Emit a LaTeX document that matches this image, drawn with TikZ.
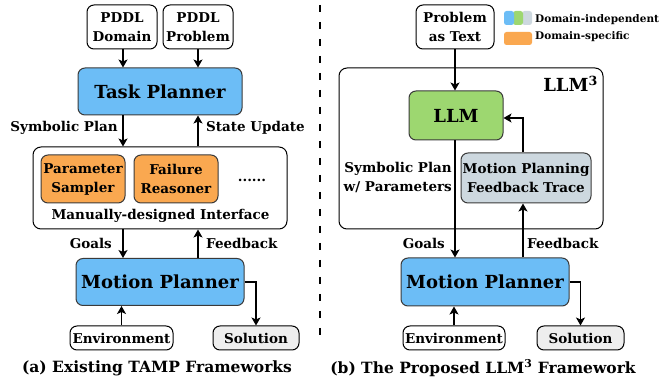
\documentclass[tikz,border=0pt]{standalone}
\usepackage{fontspec}
\setmainfont{DejaVu Serif}
\usetikzlibrary{arrows.meta}
\definecolor{cblue}{HTML}{6CBDF6}
\definecolor{cgreen}{HTML}{9DD770}
\definecolor{cgrey}{HTML}{CDD8DF}
\definecolor{corange}{HTML}{FAA850}
\definecolor{csol}{HTML}{EEEEEE}
\definecolor{cedge}{HTML}{3A3A3A}
\tikzset{
  lbl/.style={font=\bfseries\fontsize{13.5}{19}\selectfont, inner sep=0pt},
  big/.style={font=\bfseries\fontsize{18}{22}\selectfont},
  inbox/.style={draw=black, line width=1pt, rounded corners=7pt, fill=white, align=center, inner sep=0pt, font=\bfseries\fontsize{13.5}{19}\selectfont},
  colbox/.style={draw=cedge, line width=1pt, rounded corners=7pt, align=center, inner sep=0pt},
  framebox/.style={draw=black, line width=1pt, rounded corners=8pt, inner sep=0pt},
  arr/.style={line width=1.2pt, -{Stealth[length=8pt,width=9pt,inset=2pt]}},
  captxt/.style={font=\bfseries\fontsize{15.5}{18}\selectfont, inner sep=0pt},
  leg/.style={font=\bfseries\fontsize{10.5}{12}\selectfont, inner sep=0pt, anchor=west},
}
\begin{document}
\begin{tikzpicture}[x=1pt,y=-1pt]
\useasboundingbox (0,0) rectangle (670,379);
% ---------------- left panel ----------------
\node[inbox, minimum width=70pt, minimum height=44pt] (domain) at (122,27) {PDDL\\Domain};
\node[inbox, minimum width=70pt, minimum height=44pt] (problem) at (198,27) {PDDL\\Problem};
\node[colbox, fill=cblue, big, minimum width=164pt, minimum height=47pt] (task) at (160,91.5) {Task Planner};
\node[framebox, minimum width=254pt, minimum height=82pt] (iface) at (160,188) {};
\node[colbox, fill=corange, lbl, minimum width=84pt, minimum height=48pt] (psamp) at (83,179) {Parameter\\Sampler};
\node[colbox, fill=corange, lbl, minimum width=84pt, minimum height=48pt] (freas) at (176,179) {Failure\\Reasoner};
\node[lbl] (dots) at (252,180) {......};
\node[lbl] (ifacelbl) at (160.5,216) {Manually-designed Interface};
\node[colbox, fill=cblue, big, minimum width=168pt, minimum height=47pt] (mpA) at (160,282) {Motion Planner};
\node[inbox, minimum width=103pt, minimum height=24pt] (envA) at (121.5,338) {Environment};
\node[inbox, fill=csol, minimum width=86pt, minimum height=24pt] (solA) at (256,338) {Solution};

\coordinate (xa) at (123,0);
\coordinate (xb) at (198,0);
\draw[arr] (domain.south -| xa) -- (task.north -| xa);
\draw[arr] (problem.south -| xb) -- (task.north -| xb);
\draw[arr] (task.south -| xa) -- (iface.north -| xa);
\draw[arr] (iface.north -| xb) -- (task.south -| xb);
\draw[arr] (iface.south -| xa) -- (mpA.north -| xa);
\draw[arr] (mpA.north -| xb) -- (iface.south -| xb);
\draw[arr] (envA.north) -- (envA.north |- mpA.south);
\draw[arr] (mpA.east) -| (solA.north);

\node[lbl, anchor=east] (lsp) at (118,128) {Symbolic Plan};
\node[lbl, anchor=west] (lsu) at (206,128) {State Update};
\node[lbl, anchor=east] (lga) at (112,243) {Goals};
\node[lbl, anchor=west] (lfa) at (206,243) {Feedback};
\node[captxt] (capA) at (157,368) {(a) Existing TAMP Frameworks};

% divider
\draw[line width=1.1pt, dash pattern=on 7.5pt off 9.5pt] (320,5) -- (320,345);

% ---------------- right panel ----------------
\node[inbox, minimum width=78pt, minimum height=44pt] (ptext) at (455,27) {Problem\\as Text};
\node[framebox, minimum width=264pt, minimum height=161pt] (llm3) at (471,148.5) {};
\node[big, anchor=east, inner sep=0pt] (llm3lbl) at (598,84) {LLM\textsuperscript{3}};
\node[colbox, fill=cgreen, big, minimum width=94pt, minimum height=49pt] (llm) at (456,115.5) {LLM};
\node[colbox, fill=cgrey, lbl, minimum width=130pt, minimum height=50pt] (mpft) at (526,178) {Motion Planning\\Feedback Trace};
\node[colbox, fill=cblue, big, minimum width=168pt, minimum height=48pt] (mpB) at (485,282) {Motion Planner};
\node[inbox, minimum width=102pt, minimum height=24pt] (envB) at (454,338) {Environment};
\node[inbox, fill=csol, minimum width=87pt, minimum height=24pt] (solB) at (580.5,338) {Solution};

\coordinate (xc) at (455,0);
\coordinate (xd) at (523,0);
\coordinate (yfb) at (0,118);
\draw[arr] (ptext.south -| xc) -- (llm.north -| xc);
\draw[arr] (llm.south -| xc) -- (mpB.north -| xc);
\draw[arr] (mpB.north -| xd) -- (mpft.south -| xd);
\draw[arr] (mpft.north -| xd) |- (llm.east |- yfb);
\draw[arr] (envB.north) -- (envB.north |- mpB.south);
\draw[arr] (mpB.east) -| (solB.north);

\node[lbl, anchor=east, align=right] (lspb) at (452,178) {Symbolic Plan\\w/ Parameters};
\node[lbl, anchor=east] (lgb) at (445,243) {Goals};
\node[lbl, anchor=west] (lfb) at (527,243) {Feedback};
\node[captxt] (capB) at (483,368) {(b) The Proposed LLM\textsuperscript{3} Framework};

% legend
\node[fill=cgrey, rounded corners=2.5pt, minimum width=10pt, minimum height=14pt, inner sep=0pt] (lg3) at (527,18) {};
\node[fill=cgreen, rounded corners=2.5pt, minimum width=10pt, minimum height=14pt, inner sep=0pt] (lg2) at (518,18) {};
\node[fill=cblue, rounded corners=2.5pt, minimum width=10pt, minimum height=14pt, inner sep=0pt] (lg1) at (509,18) {};
\node[fill=corange, rounded corners=2.5pt, minimum width=28pt, minimum height=13pt, inner sep=0pt] (lg4) at (518,38.5) {};
\node[leg] (lt1) at (535,19.5) {Domain-independent};
\node[leg] (lt2) at (535,36.5) {Domain-specific};
\end{tikzpicture}
\end{document}
